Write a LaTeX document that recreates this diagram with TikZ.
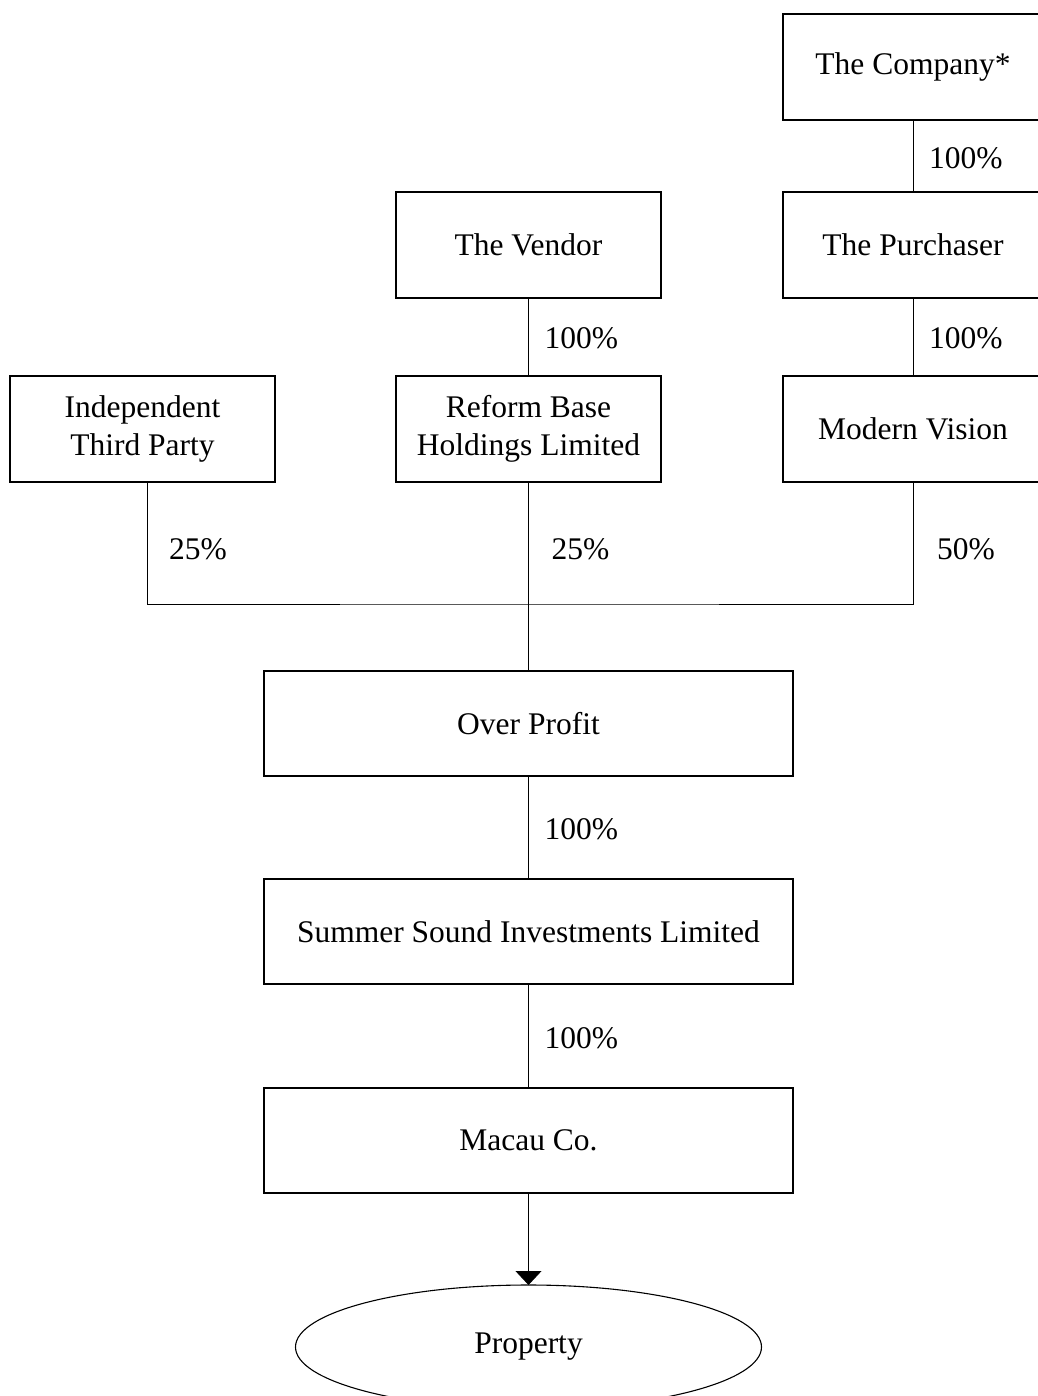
\documentclass[tikz,border=0pt]{standalone}
\usepackage{fontspec}
\setmainfont{Liberation Serif}
\usepackage{tikz}
\usetikzlibrary{shapes.geometric, arrows.meta, positioning, calc}
\tikzstyle{entity} = [rectangle, minimum width=265pt, minimum height=106pt, text centered, align=center, draw=black, line width=1.1pt, outer sep=0pt]
\tikzstyle{wide} = [entity, minimum width=529pt, minimum height=105pt]
\tikzstyle{asset} = [ellipse, minimum width=466pt, minimum height=124pt, draw=black, line width=1.1pt, outer sep=0pt]
\tikzstyle{pct} = [anchor=west, inner sep=0pt]
\tikzstyle{link} = [line width=0.9pt]
\tikzstyle{arrow} = [link, -{Triangle[width=26pt,length=14pt]}]

\begin{document}
\begin{tikzpicture}[x=1pt, y=-1pt, font=\fontsize{31.5}{38}\selectfont]
\useasboundingbox (0,0) rectangle (1037,1396);

% Purchaser side
\node (company) [entity, minimum width=260pt] at (913,67) {The Company*};
\node (purchaser) [entity, minimum width=260pt, below=72pt of company] {The Purchaser};
\node (modern) [entity, minimum width=260pt, below=78pt of purchaser] {Modern Vision};

% Vendor side
\node (vendor) [entity, left=122pt of purchaser] {The Vendor};
\node (reform) [entity, below=78pt of vendor] {Reform Base\\Holdings Limited};
\node (indep) [entity, left=121pt of reform] {Independent\\Third Party};

% Joint venture chain
\coordinate [below=122pt of reform] (join);
\node (overprofit) [wide, below=189pt of reform] {Over Profit};
\node (summer) [wide, below=103pt of overprofit] {Summer Sound Investments Limited};
\node (macau) [wide, below=104pt of summer] {Macau Co.};
\node (property) [asset, below=92pt of macau] {Property};

% Connections
\draw [link] (company) -- (purchaser);
\draw [link] (purchaser) -- (modern);
\draw [link] (vendor) -- (reform);
\draw [link] ([xshift=4.5pt]indep.south) |- (join) -| (modern.south);
\draw [link] (reform) -- (overprofit);
\draw [link] (overprofit) -- (summer);
\draw [link] (summer) -- (macau);
\draw [arrow] (macau) -- (property);

% Shareholdings
\node (p1) [pct, xshift=16pt, yshift=-2pt] at ($(company.south)!0.5!(purchaser.north)$) {100\%};
\node (p2) [pct, xshift=16pt, yshift=-1pt] at ($(purchaser.south)!0.5!(modern.north)$) {100\%};
\node (p3) [pct, xshift=16pt, yshift=-1pt] at ($(vendor.south)!0.5!(reform.north)$) {100\%};
\node (p4) [pct, xshift=26.5pt, yshift=-6pt] at ($(indep.south)!0.5!(indep.south |- join)$) {25\%};
\node (p5) [pct, xshift=23pt, yshift=-6pt] at ($(reform.south)!0.5!(join)$) {25\%};
\node (p6) [pct, xshift=24pt, yshift=-6pt] at ($(modern.south)!0.5!(modern.south |- join)$) {50\%};
\node (p7) [pct, xshift=16pt, yshift=-2pt] at ($(overprofit.south)!0.5!(summer.north)$) {100\%};
\node (p8) [pct, xshift=16pt, yshift=-2pt] at ($(summer.south)!0.5!(macau.north)$) {100\%};

\end{tikzpicture}
\end{document}
